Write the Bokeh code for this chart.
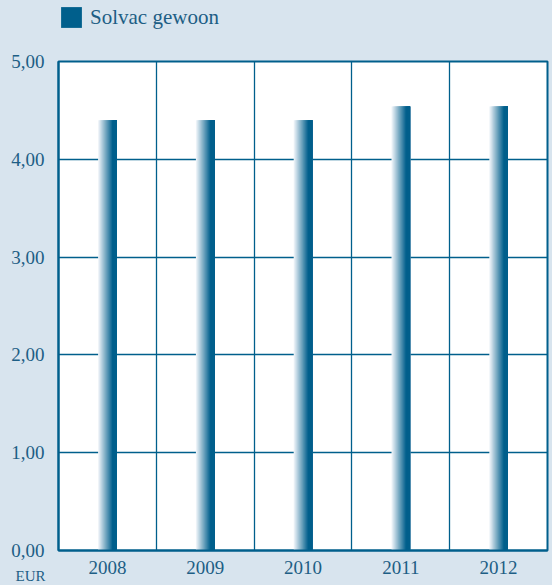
from bokeh.plotting import figure
from bokeh.layouts import column
from bokeh.models import ColumnDataSource, Range1d, FixedTicker, Legend, Title
from bokeh.transform import dodge
from bokeh.embed import file_html
from bokeh.resources import INLINE

years = ["2008", "2009", "2010", "2011", "2012"]
dividend = [4.40, 4.40, 4.40, 4.54, 4.54]
series_name = "Solvac gewoon"
y_ticks = [0, 1, 2, 3, 4, 5]
y_tick_labels = ["0,00", "1,00", "2,00", "3,00", "4,00", "5,00"]
unit_label = "EUR"

BG = "#d8e4ee"
DARK = "#005f8c"
TEXT = "#1d5e85"
FONT = "Liberation Serif"

xs = [i + 0.5 for i in range(len(years))]
src = ColumnDataSource(dict(x=xs, top=dividend, year=years))

# ---- legend strip on top ----
LH = 50
lf = figure(width=552, height=LH, x_range=Range1d(0, 1), y_range=Range1d(0, 1),
            output_backend="svg", toolbar_location=None,
            x_axis_location=None, y_axis_location=None, min_border=0,
            background_fill_alpha=0, border_fill_color=BG, outline_line_color=None)
lf.grid.visible = False
key = lf.vbar(x="x", top="top", width=0.1, source=src, fill_color=DARK, line_color=None,
              visible=False)
legend = Legend(items=[(series_name, [key])], location=(0, LH - 30),
                padding=0, margin=0, spacing=0, label_standoff=6,
                glyph_width=26, glyph_height=26, label_height=26,
                inactive_fill_alpha=0,
                label_text_font=FONT, label_text_font_size="21px", label_text_color=TEXT,
                background_fill_alpha=0, border_line_alpha=0)
lf.add_layout(legend, "center")

# ---- main chart ----
p = figure(width=552, height=585 - LH, x_range=Range1d(0, len(years)), y_range=Range1d(0, 5),
           output_backend="svg", toolbar_location=None,
           min_border_left=58, min_border_right=5, min_border_top=61 - LH, min_border_bottom=35,
           background_fill_color="white", border_fill_color=BG)

p.outline_line_color = DARK
p.outline_line_width = 2

p.xgrid.ticker = FixedTicker(ticks=list(range(1, len(years))))
p.ygrid.ticker = FixedTicker(ticks=y_ticks[1:-1])
for g in (p.xgrid, p.ygrid):
    g.grid_line_color = DARK
    g.grid_line_width = 1.3

p.xaxis.ticker = FixedTicker(ticks=xs)
p.xaxis.major_label_overrides = {x: y for x, y in zip(xs, years)}
p.yaxis.ticker = FixedTicker(ticks=y_ticks)
p.yaxis.major_label_overrides = {t: l for t, l in zip(y_ticks, y_tick_labels)}
for ax in (p.xaxis, p.yaxis):
    ax.axis_line_color = DARK
    ax.axis_line_width = 2
    ax.major_tick_line_color = None
    ax.minor_tick_line_color = None
    ax.major_label_text_font = FONT
    ax.major_label_text_font_size = "19px"
    ax.major_label_text_color = TEXT
p.xaxis.major_label_standoff = 4
p.yaxis.major_label_standoff = 8

def mix(c1, c2, t):
    a = [int(c1[i:i + 2], 16) for i in (1, 3, 5)]
    b = [int(c2[i:i + 2], 16) for i in (1, 3, 5)]
    return "#%02x%02x%02x" % tuple(round(a[k] + (b[k] - a[k]) * t) for k in range(3))

# gradient bars: overlapping slices, each running from its start to the bar's right edge
W = 0.19
N = 20
sw = W / N
for k in range(N):
    t = min(1.0, (k / (N - 1)) / 0.8)
    color = mix("#eef3f8", DARK, t)
    width = W - k * sw
    off = W / 2 - width / 2
    p.vbar(x=dodge("x", off), top="top", bottom=0, width=width, source=src,
           fill_color=color, line_color=None)

p.add_layout(Title(text=unit_label, align="left", vertical_align="top", offset=-43, standoff=-18,
                   text_font=FONT, text_font_size="15px", text_font_style="normal",
                   text_color=TEXT), "below")

layout = column(lf, p, spacing=0, styles={"background-color": BG})
open("out.html", "w").write(file_html(layout, INLINE))
